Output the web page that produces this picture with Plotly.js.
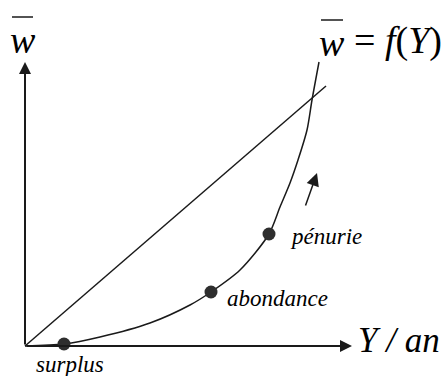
<!DOCTYPE html>
<html>
<head>
<meta charset="utf-8">
<script src="https://cdn.plot.ly/plotly-3.0.1.min.js"></script>
<style>html,body{margin:0;padding:0;background:#fff;}#chart{width:445px;height:376px;}</style>
</head>
<body>
<div id="chart"></div>
<script>
// Convex wage curve w = f(Y)
var curveX = [0, 39, 75, 125, 165, 186, 215, 244, 255, 265, 273, 282, 287, 294];
var curveY = [0, 2, 9, 23, 41, 54, 76, 112, 139, 163, 186, 216, 246, 284];
// reference straight line from the origin
var lineX = [0, 301];
var lineY = [0, 260];
// Marked states
var stateNames = ["surplus", "abondance", "pénurie"];
var stateX = [39, 186, 244];
var stateY = [2, 54, 112];
// Axis extents and direction arrow
var axisEndX = 327;
var axisEndY = 284;
var dirArrowFrom = [280, 139];
var dirArrowTo = [292, 173];

var W = 445, H = 376;
function px(x) { return x / W; }
function py(y) { return 1 - y / H; }

var ink = '#1a1a1a';
var serif = '"Liberation Serif", "Times New Roman", Times, "DejaVu Serif", serif';

var traces = [
  { x: lineX, y: lineY, mode: 'lines', line: { color: ink, width: 1.5 }, hoverinfo: 'skip' },
  { x: curveX, y: curveY, mode: 'lines', line: { color: ink, width: 1.5, shape: 'spline', smoothing: 0.8 }, hoverinfo: 'skip' },
  { x: stateX, y: stateY, mode: 'markers', marker: { color: '#2e2e2e', size: 13 }, hoverinfo: 'skip' }
];

var lab = function (t, x, y, xa, size) {
  return { text: '<i>' + t + '</i>', xref: 'paper', yref: 'paper', x: px(x), y: py(y), xanchor: xa, yanchor: 'middle',
    showarrow: false, font: { family: serif, size: size, color: '#000' } };
};
var arr = function (x0, y0, x1, y1, w, s) {
  return { xref: 'x', yref: 'y', axref: 'x', ayref: 'y', x: x1, y: y1, ax: x0, ay: y0, text: '',
    showarrow: true, arrowhead: 2, arrowsize: s, arrowwidth: w, arrowcolor: ink, standoff: 0, startstandoff: 0 };
};

var annotations = [
  arr(0, 0, 0, axisEndY, 2, 1.2),
  arr(0, 0, axisEndX, 0, 2, 1.2),
  arr(dirArrowFrom[0], dirArrowFrom[1], dirArrowTo[0], dirArrowTo[1], 1.5, 1.7),
  lab(stateNames[0], 70, 364, 'center', 23),
  lab(stateNames[1], 225, 298, 'left', 23),
  lab(stateNames[2], 288, 236, 'left', 23),
  lab('w', 23, 40, 'center', 38),
  lab('w', 332, 43, 'center', 38),
  { text: '= <i>f</i>(<i>Y</i>)', xref: 'paper', yref: 'paper', x: px(352), y: py(40), xanchor: 'left', yanchor: 'middle',
    showarrow: false, font: { family: serif, size: 38, color: '#000' } },
  lab('Y / an', 356, 340, 'left', 35)
];

var shapes = [
  { type: 'line', xref: 'paper', yref: 'paper', x0: px(12), x1: px(33), y0: py(17), y1: py(17), line: { color: ink, width: 1.5 } },
  { type: 'line', xref: 'paper', yref: 'paper', x0: px(321), x1: px(343), y0: py(20), y1: py(20), line: { color: ink, width: 1.5 } }
];

var layout = {
  width: W, height: H,
  margin: { l: 0, r: 0, t: 0, b: 0 },
  paper_bgcolor: '#fff', plot_bgcolor: '#fff',
  showlegend: false,
  font: { family: serif },
  xaxis: { range: [-25, 420], visible: false, fixedrange: true },
  yaxis: { range: [-30, 346], visible: false, fixedrange: true },
  annotations: annotations,
  shapes: shapes
};

Plotly.newPlot('chart', traces, layout, { staticPlot: true, displayModeBar: false });
</script>
</body>
</html>
